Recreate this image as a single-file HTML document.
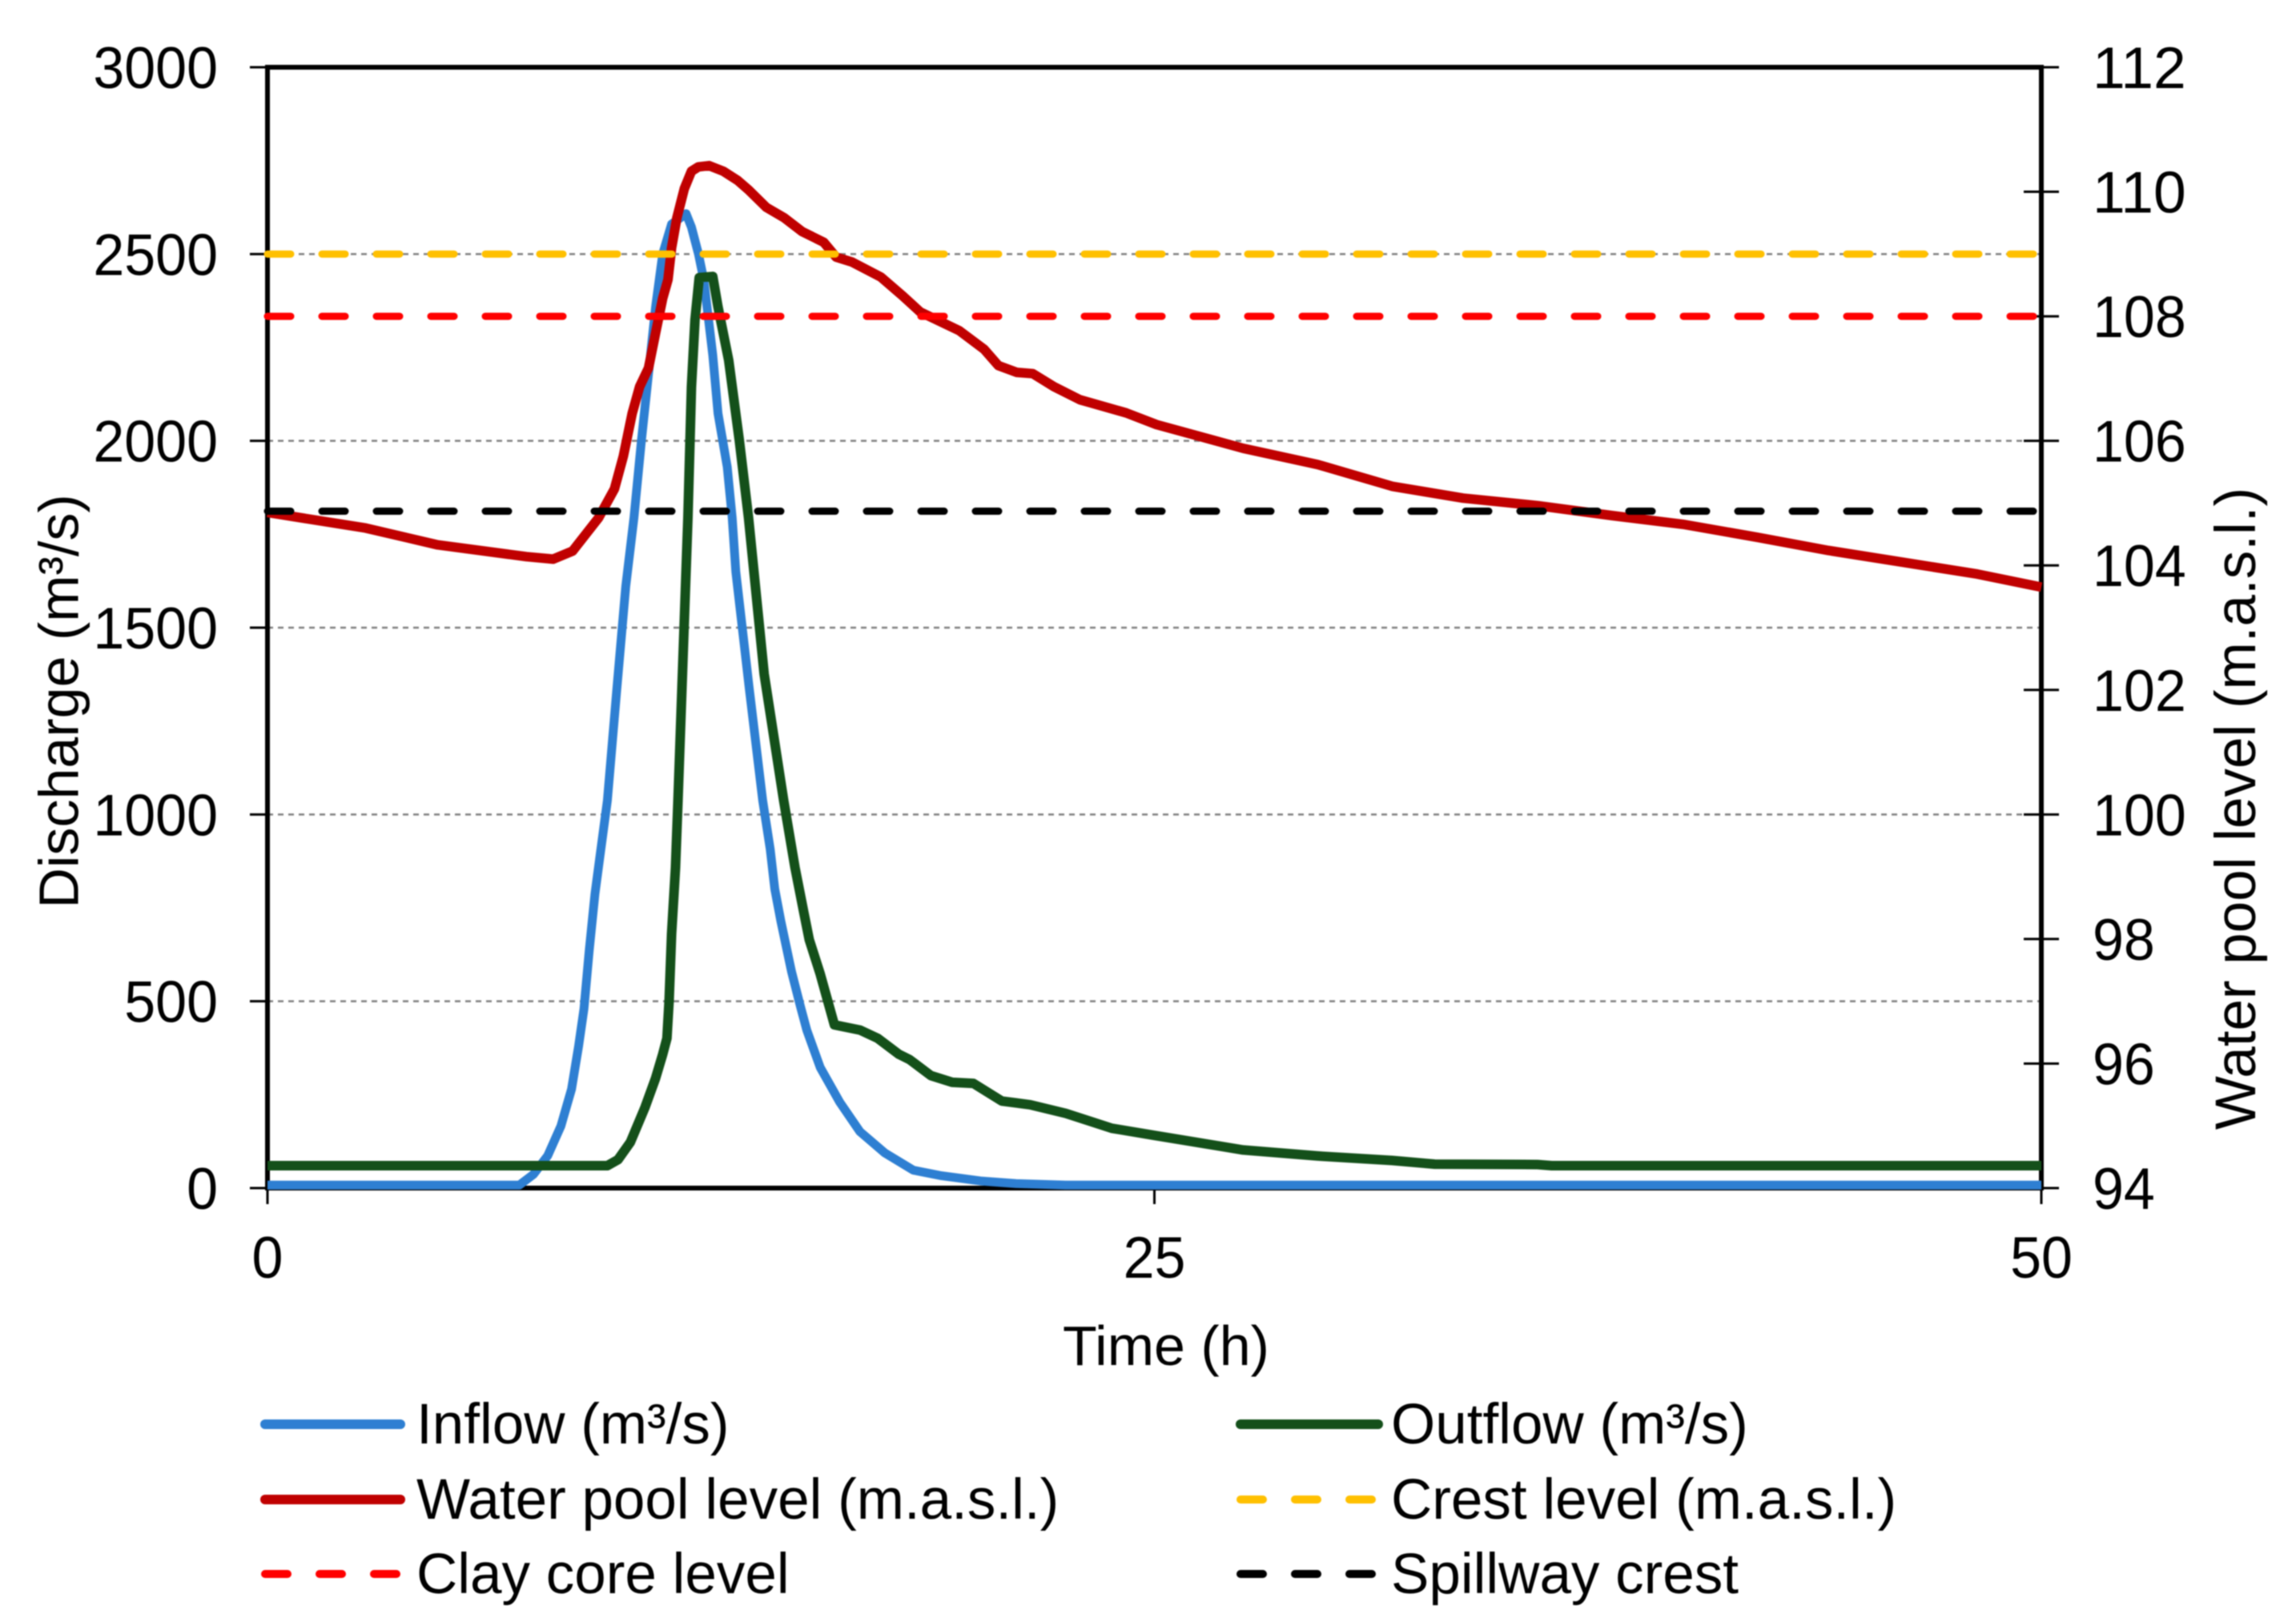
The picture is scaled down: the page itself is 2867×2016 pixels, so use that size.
<!DOCTYPE html>
<html lang="en">
<head>
<meta charset="utf-8">
<title>Discharge and water pool level over time</title>
<style>
  html, body { margin: 0; padding: 0; background: #fff; }
  #chart { display: block; width: 2867px; height: 2016px; filter: blur(0.7px); }
  text { font-family: "Liberation Sans", sans-serif; fill: #000; }
</style>
</head>
<body>
<svg id="chart" xmlns="http://www.w3.org/2000/svg" width="2867" height="2016" viewBox="0 0 2867 2016">
  <g id="grid"></g>
  <g id="axes"></g>
  <g id="series"></g>
  <g id="labels"></g>
  <text x="79" y="876" font-size="70" text-anchor="middle" transform="rotate(-90 79 876)" dominant-baseline="middle">Discharge (m³/s)</text>
  <text x="2797" y="1010" font-size="71" text-anchor="middle" transform="rotate(-90 2797 1010)" dominant-baseline="middle">Water pool level (m.a.s.l.)</text>
  <text x="1456" y="1705" font-size="70" text-anchor="middle">Time (h)</text>
  <g>
    <g>
      <line x1="331" y1="1779" x2="500" y2="1779" stroke="#2e7fd2" stroke-width="12" stroke-linecap="round"/>
      <text x="520" y="1803" font-size="71">Inflow (m³/s)</text>
    </g>
    <g>
      <line x1="1549" y1="1779" x2="1721" y2="1779" stroke="#14501a" stroke-width="12" stroke-linecap="round"/>
      <text x="1737" y="1803" font-size="71">Outflow (m³/s)</text>
    </g>
    <g>
      <line x1="331" y1="1873" x2="500" y2="1873" stroke="#c00000" stroke-width="12" stroke-linecap="round"/>
      <text x="520" y="1897" font-size="71">Water pool level (m.a.s.l.)</text>
    </g>
    <g>
      <line x1="1549" y1="1873" x2="1721" y2="1873" stroke="#ffc000" stroke-width="10" stroke-linecap="round" stroke-dasharray="28 40"/>
      <text x="1737" y="1897" font-size="71">Crest level (m.a.s.l.)</text>
    </g>
    <g>
      <line x1="331" y1="1966" x2="500" y2="1966" stroke="#ff0000" stroke-width="10" stroke-linecap="round" stroke-dasharray="28 40"/>
      <text x="520" y="1990" font-size="71">Clay core level</text>
    </g>
    <g>
      <line x1="1549" y1="1966" x2="1721" y2="1966" stroke="#000" stroke-width="10" stroke-linecap="round" stroke-dasharray="28 40"/>
      <text x="1737" y="1990" font-size="71">Spillway crest</text>
    </g>
  </g>
</svg>
<script>
const xTicks = [0, 25, 50];
const dischargeTicks = [0, 500, 1000, 1500, 2000, 2500, 3000];
const levelTicks = [94, 96, 98, 100, 102, 104, 106, 108, 110, 112];

const inflowTime = [0, 7.1, 7.5, 7.9, 8.27, 8.57, 8.77, 8.92, 9.07, 9.23, 9.38, 9.58, 9.85, 10.1, 10.33, 10.54, 10.74, 10.94, 11.14, 11.39, 11.8, 11.95, 12.15, 12.3, 12.55, 12.7, 12.96, 13.1, 13.2, 13.58, 13.96, 14.17, 14.3, 14.47, 14.77, 15.02, 15.2, 15.58, 16.13, 16.7, 17.4, 18.2, 19, 20.1, 21.1, 22.5, 50];
const inflowValues = [8, 8, 37, 87, 166, 265, 380, 480, 637, 787, 894, 1037, 1340, 1611, 1794, 2000, 2180, 2358, 2500, 2580, 2608, 2572, 2500, 2430, 2230, 2073, 1930, 1794, 1650, 1337, 1037, 908, 800, 715, 580, 487, 423, 323, 230, 151, 94, 48, 33, 19, 12, 8, 8];

const outflowTime = [0, 9.58, 9.88, 10.23, 10.64, 10.94, 11.14, 11.26, 11.32, 11.39, 11.5, 11.57, 11.85, 11.95, 12.05, 12.17, 12.55, 12.7, 13, 13.3, 13.56, 14, 14.55, 14.87, 15.12, 15.27, 15.58, 15.98, 16.7, 17.2, 17.8, 18.1, 18.7, 19.3, 19.9, 20.7, 21.5, 22.5, 23.8, 25, 27.5, 29.6, 31.7, 32.9, 35.8, 36.2, 50];
const outflowValues = [60, 60, 76, 123, 216, 294, 358, 401, 501, 680, 858, 1037, 1794, 2144, 2323, 2437, 2440, 2358, 2216, 2001, 1794, 1376, 1037, 858, 737, 665, 573, 437, 423, 401, 358, 344, 301, 283, 280, 233, 223, 200, 160, 141, 102, 86, 74, 64, 63, 60, 60];

const levelTime = [0, 2.77, 4.8, 7.3, 8.05, 8.6, 9.33, 9.78, 10.03, 10.28, 10.49, 10.74, 10.94, 11.14, 11.29, 11.39, 11.54, 11.75, 11.95, 12.15, 12.45, 12.85, 13.26, 13.56, 14.06, 14.57, 15.07, 15.68, 16.03, 16.48, 17.29, 17.9, 18.4, 19.5, 20.2, 20.6, 21.12, 21.57, 22.17, 22.9, 24.2, 25.06, 27.5, 29.6, 31.7, 33.7, 35.8, 37.9, 39.9, 42, 44, 46.1, 48.2, 50];
const levelValues = [104.85, 104.6, 104.33, 104.14, 104.1, 104.23, 104.76, 105.23, 105.75, 106.44, 106.87, 107.17, 107.73, 108.29, 108.59, 109.1, 109.58, 110.05, 110.33, 110.4, 110.42, 110.33, 110.18, 110.03, 109.75, 109.58, 109.36, 109.19, 108.95, 108.87, 108.63, 108.33, 108.07, 107.77, 107.47, 107.21, 107.1, 107.08, 106.87, 106.66, 106.45, 106.26, 105.88, 105.62, 105.27, 105.08, 104.96, 104.8, 104.66, 104.45, 104.24, 104.05, 103.86, 103.65];

const crestLevel = [109];
const clayCoreLevel = [108];
const spillwayCrest = [104.87];

const svgNS = 'http://www.w3.org/2000/svg';
const plot = { left: 334, right: 2549, top: 84, bottom: 1484 };
const xScale = t => plot.left + (t - xTicks[0]) / (xTicks[xTicks.length - 1] - xTicks[0]) * (plot.right - plot.left);
const yDischarge = q => plot.bottom - (q - dischargeTicks[0]) / (dischargeTicks[dischargeTicks.length - 1] - dischargeTicks[0]) * (plot.bottom - plot.top);
const yLevel = l => plot.bottom - (l - levelTicks[0]) / (levelTicks[levelTicks.length - 1] - levelTicks[0]) * (plot.bottom - plot.top);
const tickFontSize = 73;
const tickDigitWidth = 38.92;

function make(tag, parent, attrs) {
  const el = document.createElementNS(svgNS, tag);
  for (const k in attrs) el.setAttribute(k, attrs[k]);
  parent.appendChild(el);
  return el;
}

const grid = document.getElementById('grid');
const axes = document.getElementById('axes');
const series = document.getElementById('series');
const labels = document.getElementById('labels');

dischargeTicks.forEach(q => {
  if (q === 0 || q === 3000) return;
  const y = yDischarge(q);
  const line = make('line', grid, { x1: plot.left, x2: plot.right, y1: y, y2: y, stroke: '#808080', 'stroke-width': 2.5, 'stroke-dasharray': '7 6' });
  
  
});

const frame = make('rect', axes, { x: plot.left, y: plot.top, width: plot.right - plot.left, height: plot.bottom - plot.top, fill: 'none', stroke: '#000', 'stroke-width': 6 });



dischargeTicks.forEach(q => {
  const y = yDischarge(q);
  const tick = make('line', axes, { x1: plot.left - 22, x2: plot.left, y1: y, y2: y, stroke: '#000', 'stroke-width': 3 });
  
  
  const label = make('text', labels, { x: 272, y: y + 26, 'font-size': tickFontSize, 'text-anchor': 'end', textLength: String(q).length * tickDigitWidth, lengthAdjust: 'spacingAndGlyphs' });
  label.textContent = q;
  
  
});

levelTicks.forEach(l => {
  const y = yLevel(l);
  const inner = (l === 112 || l === 94) ? plot.right : plot.right - 22;
  const tick = make('line', axes, { x1: inner, x2: plot.right + 22, y1: y, y2: y, stroke: '#000', 'stroke-width': 3 });
  
  
  const label = make('text', labels, { x: 2613, y: y + 26, 'font-size': tickFontSize, textLength: String(l).length * tickDigitWidth, lengthAdjust: 'spacingAndGlyphs' });
  label.textContent = l;
  
  
});

xTicks.forEach(t => {
  const x = xScale(t);
  const tick = make('line', axes, { x1: x, x2: x, y1: plot.bottom, y2: plot.bottom + 20, stroke: '#000', 'stroke-width': 3 });
  
  
  const label = make('text', labels, { x: x, y: 1596, 'font-size': tickFontSize, 'text-anchor': 'middle', textLength: String(t).length * tickDigitWidth, lengthAdjust: 'spacingAndGlyphs' });
  label.textContent = t;
  
  
});

function curvePoints(times, values, yFn) {
  return times.map((t, i) => xScale(t).toFixed(1) + ',' + yFn(values[i]).toFixed(1)).join(' ');
}

const inflowLine = make('polyline', series, { points: curvePoints(inflowTime, inflowValues, yDischarge), fill: 'none', stroke: '#2e7fd2', 'stroke-width': 11, 'stroke-linejoin': 'round' });



const outflowLine = make('polyline', series, { points: curvePoints(outflowTime, outflowValues, yDischarge), fill: 'none', stroke: '#14501a', 'stroke-width': 12, 'stroke-linejoin': 'round' });



const levelLine = make('polyline', series, { points: curvePoints(levelTime, levelValues, yLevel), fill: 'none', stroke: '#c00000', 'stroke-width': 12, 'stroke-linejoin': 'round' });



function flatLine(level, color) {
  const y = yLevel(level);
  return make('line', series, { x1: plot.left, x2: plot.right - 6, y1: y, y2: y, stroke: color, 'stroke-width': 9, 'stroke-linecap': 'round', 'stroke-dasharray': '29 39' });
}
const crestLine = flatLine(crestLevel[0], '#ffc000');


const clayLine = flatLine(clayCoreLevel[0], '#ff0000');


const spillwayLine = flatLine(spillwayCrest[0], '#000000');


</script>
</body>
</html>
